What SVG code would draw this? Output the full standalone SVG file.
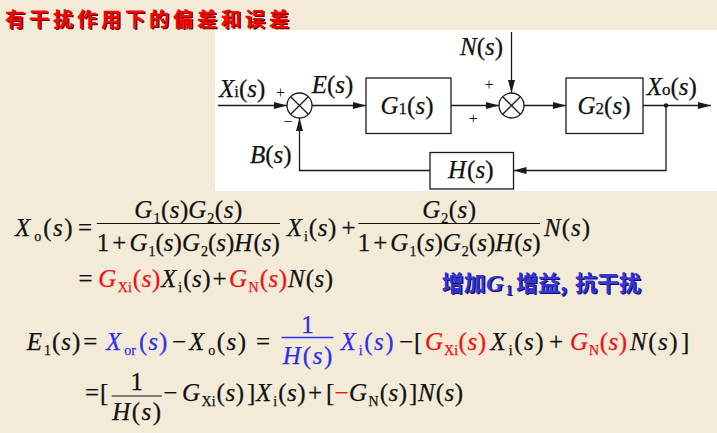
<svg xmlns="http://www.w3.org/2000/svg" width="717" height="433" viewBox="0 0 717 433">
<defs>
<style>
.ttl{font-family:"Noto Sans CJK SC","Noto Sans",sans-serif;font-weight:700;font-size:20px;letter-spacing:4px}
.bt{font-family:"Noto Sans CJK SC","Noto Sans",sans-serif;font-weight:700;font-size:22px}
.m{font-family:"Liberation Serif","Times New Roman",serif;font-size:25px;fill:#111;stroke:#111;stroke-width:0.25}
.i{font-style:italic}
.s14{font-size:14px}
.s17{font-size:17px}
.r{fill:#F21010;stroke:#F21010}
.b{fill:#2E2EF2;stroke:#2E2EF2}
.ln{stroke:#1a1a1a;stroke-width:1.3;fill:none}
.nd{stroke:#1a1a1a;stroke-width:1.3;fill:#fff}
.pm{font-family:"Liberation Serif",serif;font-size:16px;fill:#111}
.gi{font-family:"Liberation Serif",serif;font-style:italic;font-weight:700;font-size:24px}
.g1{font-family:"Liberation Serif",serif;font-weight:700;font-size:14px}
</style>
<marker id="ah" markerUnits="userSpaceOnUse" markerWidth="14" markerHeight="8" refX="13" refY="3.5" orient="auto"><path d="M0,0 L13,3.5 L0,7 z" fill="#1a1a1a"/></marker>
</defs>
<rect width="717" height="433" fill="#F3EBD8"/>
<rect x="215" y="30" width="502" height="161" fill="#fff"/>

<!-- title -->
<text class="ttl" x="6.5" y="28" fill="#5a0000">有干扰作用下的偏差和误差</text>
<text class="ttl" x="5" y="26.5" fill="#FF0000">有干扰作用下的偏差和误差</text>

<!-- connectors -->
<g id="connectors" class="ln">
<path d="M218,105.5 H287" marker-end="url(#ah)"/>
<path d="M312,105.5 H366" marker-end="url(#ah)"/>
<path d="M451,105.5 H499" marker-end="url(#ah)"/>
<path d="M511.5,32 V93" marker-end="url(#ah)"/>
<path d="M524,105.5 H566" marker-end="url(#ah)"/>
<path d="M643,105.5 H711" marker-end="url(#ah)"/>
<path d="M666,105.5 V170.5 H513.5" marker-end="url(#ah)"/>
<path d="M430,170.5 H299.5 V118" marker-end="url(#ah)"/>
<circle cx="666" cy="105.5" r="2.2" fill="#1a1a1a" stroke="none"/>
</g>

<!-- nodes -->
<g id="sum1">
<circle class="nd" cx="299.5" cy="105.5" r="12.5"/>
<path class="ln" d="M290.7,96.7 L308.3,114.3 M308.3,96.7 L290.7,114.3"/>
<text class="pm" x="280.5" y="97.5" text-anchor="middle">+</text>
<text class="pm" x="288" y="127" text-anchor="middle" font-size="18">−</text>
</g>
<g id="sum2">
<circle class="nd" cx="511.5" cy="105.5" r="12.5"/>
<path class="ln" d="M502.7,96.7 L520.3,114.3 M520.3,96.7 L502.7,114.3"/>
<text class="pm" x="489" y="90" text-anchor="middle">+</text>
<text class="pm" x="473.3" y="123.5" text-anchor="middle">+</text>
</g>
<g id="G1">
<rect class="nd" x="366" y="78" width="85" height="55.5"/>
<text class="m" x="380.5" y="114"><tspan class="i">G</tspan><tspan class="s17">1</tspan>(<tspan class="i">s</tspan>)</text>
</g>
<g id="G2">
<rect class="nd" x="566" y="78" width="77" height="55.5"/>
<text class="m" x="577.5" y="114"><tspan class="i">G</tspan><tspan class="s17">2</tspan>(<tspan class="i">s</tspan>)</text>
</g>
<g id="H">
<rect class="nd" x="430" y="152.5" width="83.5" height="36.5"/>
<text class="m" x="448" y="178"><tspan class="i">H</tspan><tspan dx="1">(</tspan><tspan class="i">s</tspan>)</text>
</g>
<g id="labels">
<text class="m" x="219" y="97"><tspan class="i">X</tspan><tspan class="s17">i</tspan>(<tspan class="i">s</tspan>)</text>
<text class="m" x="311.7" y="93"><tspan class="i">E</tspan>(<tspan class="i">s</tspan>)</text>
<text class="m" x="460" y="55"><tspan class="i">N</tspan>(<tspan class="i">s</tspan>)</text>
<text class="m" x="646.7" y="95"><tspan class="i">X</tspan><tspan class="s17">o</tspan>(<tspan class="i">s</tspan>)</text>
<text class="m" x="250" y="163"><tspan class="i">B</tspan>(<tspan class="i">s</tspan>)</text>
</g>

<!-- equation line 1 -->
<g id="eq1">
<text class="m" x="15" y="235.5"><tspan class="i">X</tspan><tspan class="s14" dx="4" dy="5">o</tspan><tspan dx="2" dy="-5">(</tspan><tspan class="i" dx="1.5">s</tspan><tspan dx="1.5">)</tspan></text>
<text class="m" x="78" y="235.5">=</text>
<path d="M96.7,223.5 H280" stroke="#111" stroke-width="1.2"/>
<text class="m" x="188.3" y="218" text-anchor="middle"><tspan class="i">G</tspan><tspan class="s14" dx="1" dy="5">1</tspan><tspan dx="0.5" dy="-5">(</tspan><tspan class="i" dx="0.5">s</tspan><tspan dx="0.5">)</tspan><tspan class="i">G</tspan><tspan class="s14" dx="1" dy="5">2</tspan><tspan dx="0.5" dy="-5">(</tspan><tspan class="i" dx="0.5">s</tspan><tspan dx="0.5">)</tspan></text>
<text class="m" x="188.3" y="250.5" text-anchor="middle">1<tspan dx="3">+</tspan><tspan class="i" dx="3">G</tspan><tspan class="s14" dx="1" dy="5">1</tspan><tspan dy="-5">(</tspan><tspan class="i">s</tspan>)<tspan class="i">G</tspan><tspan class="s14" dx="1" dy="5">2</tspan><tspan dy="-5">(</tspan><tspan class="i">s</tspan>)<tspan class="i">H</tspan><tspan dx="1">(</tspan><tspan class="i">s</tspan>)</text>
<text class="m" x="286.7" y="235.5"><tspan class="i">X</tspan><tspan class="s14" dx="2" dy="5">i</tspan><tspan dx="1" dy="-5">(</tspan><tspan class="i" dx="0.5">s</tspan><tspan dx="0.5">)</tspan></text>
<text class="m" x="341.5" y="235.5">+</text>
<path d="M358.3,223.5 H540" stroke="#111" stroke-width="1.2"/>
<text class="m" x="449.2" y="218" text-anchor="middle"><tspan class="i">G</tspan><tspan class="s14" dx="1" dy="5">2</tspan><tspan dx="0.5" dy="-5">(</tspan><tspan class="i" dx="0.5">s</tspan><tspan dx="0.5">)</tspan></text>
<text class="m" x="449.2" y="250.5" text-anchor="middle">1<tspan dx="3">+</tspan><tspan class="i" dx="3">G</tspan><tspan class="s14" dx="1" dy="5">1</tspan><tspan dy="-5">(</tspan><tspan class="i">s</tspan>)<tspan class="i">G</tspan><tspan class="s14" dx="1" dy="5">2</tspan><tspan dy="-5">(</tspan><tspan class="i">s</tspan>)<tspan class="i">H</tspan><tspan dx="1">(</tspan><tspan class="i">s</tspan>)</text>
<text class="m" x="544" y="235.5"><tspan class="i">N</tspan><tspan dx="1">(</tspan><tspan class="i" dx="1">s</tspan><tspan dx="1">)</tspan></text>
</g>

<!-- equation line 2 -->
<g id="eq2">
<text class="m" x="78.5" y="286.5">=</text>
<text class="m r" x="98.3" y="286.5"><tspan class="i">G</tspan><tspan class="s14" dx="1.5" dy="5">Xi</tspan><tspan dx="1" dy="-5">(</tspan><tspan class="i" dx="0.5">s</tspan><tspan dx="0.5">)</tspan></text>
<text class="m" x="161" y="286.5"><tspan class="i">X</tspan><tspan class="s14" dx="2" dy="5">i</tspan><tspan dx="1" dy="-5">(</tspan><tspan class="i" dx="0.5">s</tspan><tspan dx="0.5">)</tspan></text>
<text class="m" x="212.5" y="286.5">+</text>
<text class="m r" x="229" y="286.5"><tspan class="i">G</tspan><tspan class="s14" dx="1.5" dy="5">N</tspan><tspan dx="1" dy="-5">(</tspan><tspan class="i" dx="0.5">s</tspan><tspan dx="0.5">)</tspan></text>
<text class="m" x="288" y="286.5"><tspan class="i">N</tspan><tspan dx="1">(</tspan><tspan class="i" dx="0.5">s</tspan><tspan dx="0.5">)</tspan></text>
</g>

<!-- blue note -->
<g id="note">
<g fill="#10106a" transform="translate(1.3,1.3)">
<text class="bt" x="441.7" y="291">增加</text>
<text class="gi" x="486" y="291">G</text>
<text class="g1" x="505.5" y="295">1</text>
<text class="bt" x="516" y="291">增益,</text>
<text class="bt" x="575" y="291">抗干扰</text>
</g>
<g fill="#3535D8">
<text class="bt" x="441.7" y="291">增加</text>
<text class="gi" x="486" y="291">G</text>
<text class="g1" x="505.5" y="295">1</text>
<text class="bt" x="516" y="291">增益,</text>
<text class="bt" x="575" y="291">抗干扰</text>
</g>
</g>

<!-- equation line 3 -->
<g id="eq3">
<text class="m" x="26.7" y="350"><tspan class="i">E</tspan><tspan class="s14" dx="2" dy="5">1</tspan><tspan dx="1" dy="-5">(</tspan><tspan class="i" dx="1">s</tspan><tspan dx="1">)</tspan></text>
<text class="m" x="83.3" y="350">=</text>
<text class="m b" x="106" y="350"><tspan class="i">X</tspan><tspan class="s14" dx="3" dy="5">or</tspan><tspan dx="3" dy="-5">(</tspan><tspan class="i" dx="1">s</tspan><tspan dx="1">)</tspan></text>
<text class="m" x="172" y="350">−</text>
<text class="m" x="189" y="350"><tspan class="i">X</tspan><tspan class="s14" dx="4" dy="5">o</tspan><tspan dx="1.5" dy="-5">(</tspan><tspan class="i" dx="1.5">s</tspan><tspan dx="1.5">)</tspan></text>
<text class="m" x="256" y="350">=</text>
<path d="M281.7,337.5 H333.3" stroke="#2E2EF2" stroke-width="1.3"/>
<text class="m b" x="307.5" y="333" text-anchor="middle">1</text>
<text class="m b" x="307.5" y="364" text-anchor="middle"><tspan class="i">H</tspan><tspan dx="2">(</tspan><tspan class="i" dx="1.5">s</tspan><tspan dx="1.5">)</tspan></text>
<text class="m b" x="340.5" y="350"><tspan class="i">X</tspan><tspan class="s14" dx="3" dy="5">i</tspan><tspan dx="1.5" dy="-5">(</tspan><tspan class="i" dx="1.5">s</tspan><tspan dx="1.5">)</tspan></text>
<text class="m" x="399" y="350">−</text>
<text class="m" x="414" y="350">[</text>
<text class="m r" x="425" y="350"><tspan class="i">G</tspan><tspan class="s14" dx="1" dy="5">Xi</tspan><tspan dx="0.5" dy="-5">(</tspan><tspan class="i" dx="0.5">s</tspan><tspan dx="0.5">)</tspan></text>
<text class="m" x="490.5" y="350"><tspan class="i">X</tspan><tspan class="s14" dx="3" dy="5">i</tspan><tspan dx="1.5" dy="-5">(</tspan><tspan class="i" dx="1.5">s</tspan><tspan dx="1.5">)</tspan></text>
<text class="m" x="549" y="350">+</text>
<text class="m r" x="570" y="350"><tspan class="i">G</tspan><tspan class="s14" dx="1" dy="5">N</tspan><tspan dx="0.5" dy="-5">(</tspan><tspan class="i" dx="0.5">s</tspan><tspan dx="0.5">)</tspan></text>
<text class="m" x="630" y="350"><tspan class="i">N</tspan><tspan dx="1.5">(</tspan><tspan class="i" dx="1.5">s</tspan><tspan dx="1.5">)</tspan></text>
<text class="m" x="681" y="350">]</text>
</g>

<!-- equation line 4 -->
<g id="eq4">
<text class="m" x="85" y="401">=</text>
<text class="m" x="100" y="401">[</text>
<path d="M111.7,396 H161.7" stroke="#111" stroke-width="1.2"/>
<text class="m" x="136.7" y="390" text-anchor="middle">1</text>
<text class="m" x="136.7" y="420" text-anchor="middle"><tspan class="i">H</tspan><tspan dx="1.5">(</tspan><tspan class="i" dx="1.5">s</tspan><tspan dx="1.5">)</tspan></text>
<text class="m" x="163.3" y="401">−</text>
<text class="m" x="182" y="401"><tspan class="i">G</tspan><tspan class="s14" dx="1.5" dy="5">Xi</tspan><tspan dx="1" dy="-5">(</tspan><tspan class="i" dx="0.5">s</tspan><tspan dx="0.5">)</tspan></text>
<text class="m" x="247" y="401">]</text>
<text class="m" x="256" y="401"><tspan class="i">X</tspan><tspan class="s14" dx="2" dy="5">i</tspan><tspan dx="1" dy="-5">(</tspan><tspan class="i" dx="0.5">s</tspan><tspan dx="0.5">)</tspan></text>
<text class="m" x="308" y="401">+</text>
<text class="m" x="326" y="401">[</text>
<text class="m r" x="334.5" y="401">−</text>
<text class="m" x="349" y="401"><tspan class="i">G</tspan><tspan class="s14" dx="1.5" dy="5">N</tspan><tspan dx="1" dy="-5">(</tspan><tspan class="i" dx="0.5">s</tspan><tspan dx="0.5">)</tspan></text>
<text class="m" x="409" y="401">]</text>
<text class="m" x="418" y="401"><tspan class="i">N</tspan><tspan dx="1">(</tspan><tspan class="i" dx="0.5">s</tspan><tspan dx="0.5">)</tspan></text>
</g>
</svg>
